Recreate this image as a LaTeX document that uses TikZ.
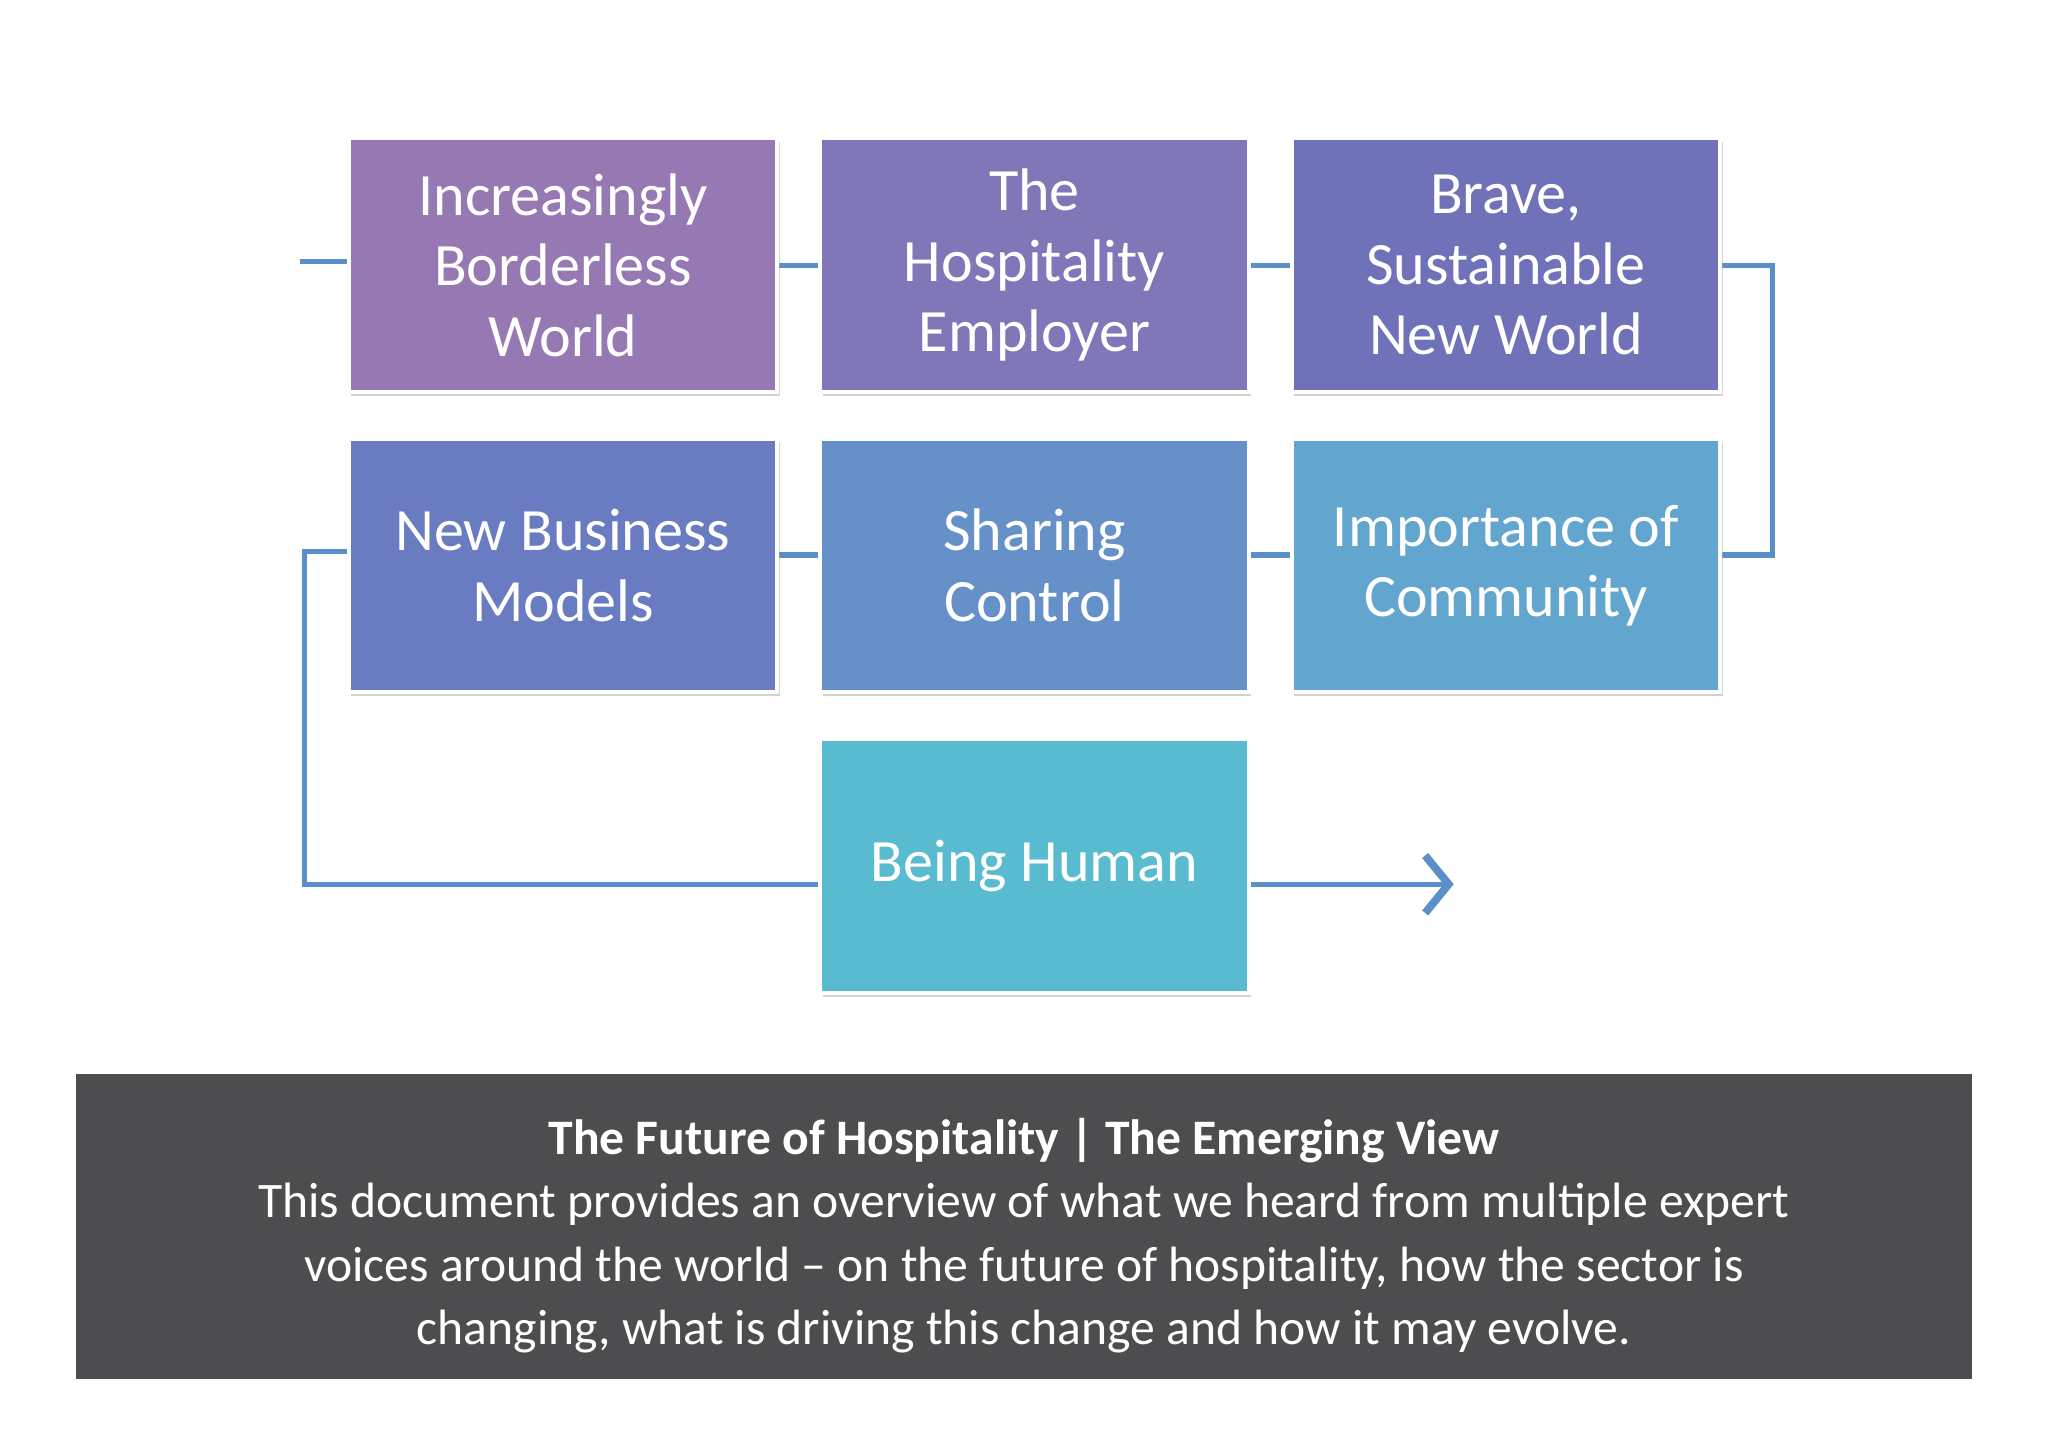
\documentclass[tikz,border=0pt]{standalone}
\usepackage{fontspec}
\setmainfont{Carlito}
\usetikzlibrary{arrows.meta,shadows}
\definecolor{c1}{HTML}{9679B3}
\definecolor{c2}{HTML}{8077B9}
\definecolor{c3}{HTML}{7072B9}
\definecolor{c4}{HTML}{6A7CC1}
\definecolor{c5}{HTML}{6690C8}
\definecolor{c6}{HTML}{62A5CE}
\definecolor{c7}{HTML}{59BBD0}
\definecolor{ln}{HTML}{5B8FC8}
\definecolor{gb}{HTML}{4D4D4F}
\tikzset{box/.style={draw=white,line width=3pt,minimum width=328pt,minimum height=194pt,text=white,align=center,font=\fontsize{46}{54}\selectfont,drop shadow={shadow xshift=2pt,shadow yshift=-3pt,fill=black!35}},
conn/.style={draw=ln,line width=4pt}}
\begin{document}
\begin{tikzpicture}[x=1pt,y=-1pt]
\useasboundingbox (0,0) rectangle (1568,1108);
\fill[white] (0,0) rectangle (1568,1108);
\coordinate (s) at (230,200);
\coordinate (r1) at (1357,203);
\coordinate (r2) at (1357,425);
\coordinate (l1) at (233,422);
\coordinate (l2) at (233,677);
\coordinate (e) at (1113,677);
\draw[conn] (s) -- (267,200);
\draw[conn] (595,203) -- (628,203);
\draw[conn] (956,203) -- (989,203);
\draw[conn] (1317,203) -- (r1) -- (r2) -- (1317,425);
\draw[conn] (595,425) -- (628,425);
\draw[conn] (956,425) -- (989,425);
\draw[conn] (267,422) -- (l1) -- (l2) -- (628,677);
\draw[conn,-{Straight Barb[length=18pt,width=44pt,line width=6pt]}] (956,677) -- (e);
\node[box,fill=c1] (a) at (431,203) {Increasingly\\Borderless\\World};
\node[box,fill=c2] (b) at (792,203) {The\\Hospitality\\Employer};
\node[box,fill=c3] (c) at (1153,203) {Brave,\\Sustainable\\New World};
\node[box,fill=c4] (d) at (431,433) {New Business\\Models};
\node[box,fill=c5] (f) at (792,433) {Sharing\\Control};
\node[box,fill=c6] (g) at (1153,433) {Importance of\\Community};
\node[box,fill=c7] (h) at (792,663) {Being Human};
\fill[gb] (58,822) rectangle (1510,1056);
\node[text=white,align=center,font=\fontsize{38}{48.5}\selectfont] (t) at (784,946) {\textbf{The Future of Hospitality | The Emerging View}\\This document provides an overview of what we heard from multiple expert\\voices around the world – on the future of hospitality, how the sector is\\changing, what is driving this change and how it may evolve.};
\end{tikzpicture}
\end{document}
